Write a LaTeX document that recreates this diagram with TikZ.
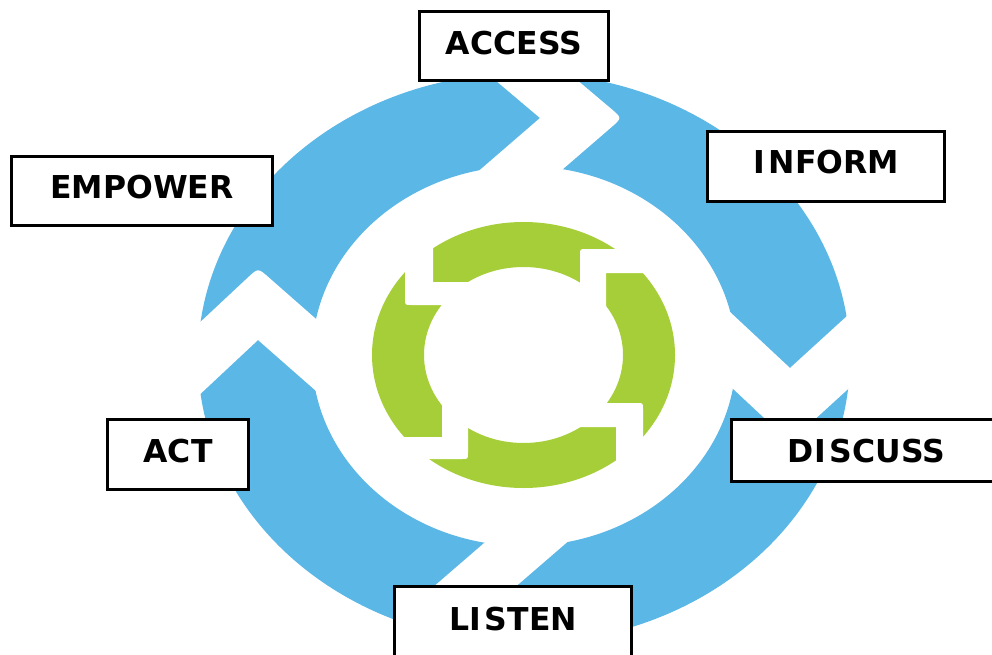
\documentclass[tikz,border=0pt]{standalone}
\usepackage{fontspec}
\newfontfamily\boxfont{DejaVu Sans}
\definecolor{ringblue}{HTML}{5BB7E6}
\definecolor{ringgreen}{HTML}{A6CE39}
\begin{document}
\begin{tikzpicture}[x=1pt,y=-1pt,
  gap/.style={fill=white},
  tag/.style={draw=black, line width=3pt, fill=white, inner sep=0pt,
    font=\boxfont\bfseries\fontsize{31.5}{31.5}\selectfont}]
\useasboundingbox (0,0) rectangle (992,655);

% outer blue cycle
\fill[ringblue, even odd rule]
  (524,358) ellipse [x radius=326pt, y radius=285pt]
  (524,356) ellipse [x radius=212pt, y radius=190pt];
% chevron cuts between the blue arrows (head sharp, notch rounded)
\fill[gap] (469,58) -- (540,118) -- (459,188) -- (541,188)
  -- (611.4,127.2) .. controls (622,118) .. (611.3,108.9) -- (551,58) -- cycle;
\fill[gap] (715,298) -- (790,368) -- (870,295) -- (870,369)
  -- (800.3,432.6) .. controls (790,442) .. (779.8,432.5) -- (715,372) -- cycle;
\fill[gap] (587,525) -- (506,595) -- (582,660) -- (500,660)
  -- (434.6,604.1) .. controls (424,595) .. (434.6,585.8) -- (505,525) -- cycle;
\fill[gap] (180,413) -- (258,340) -- (332,405) -- (332,333)
  -- (268.5,277.2) .. controls (258,268) .. (247.8,277.6) -- (180,341) -- cycle;

% inner green cycle
\fill[ringgreen, even odd rule]
  (523.5,355) ellipse [x radius=151.5pt, y radius=133pt]
  (523.5,355) ellipse [x radius=99.5pt, y radius=88pt];
% stepped cuts between the green arrows
\fill[gap] (405,230) -- (405,299) .. controls (405,305) .. (411,305)
  -- (480,305) -- (480,282) -- (433,282) -- (433,230) -- cycle;
\fill[gap] (670,249) -- (586,249) .. controls (580,249) .. (580,255)
  -- (580,315) -- (606,315) -- (606,273) -- (670,273) -- cycle;
\fill[gap] (560,403) -- (637,403) .. controls (643,403) .. (643,409)
  -- (643,480) -- (616,480) -- (616,427) -- (560,427) -- cycle;
\fill[gap] (468,400) -- (468,453) .. controls (468,459) .. (462,459)
  -- (380,459) -- (380,437) -- (442,437) -- (442,400) -- cycle;

% labels
\node[tag, minimum width=189pt, minimum height=69pt, text depth=7pt] (access) at (514,46) {ACCESS};
\node[tag, minimum width=261pt, minimum height=69pt, text depth=9pt] (empower) at (142,191) {EMPOWER};
\node[tag, minimum width=237pt, minimum height=70pt, text depth=10pt] (inform) at (826,166.5) {I\kern4pt NFORM};
\node[tag, minimum width=141pt, minimum height=70pt, text depth=8pt] (act) at (178,454.5) {ACT};
\node[tag, minimum width=270pt, minimum height=62pt, text depth=0pt] (discuss) at (866.5,450.5) {DI\kern4pt SCUSS};
\node[tag, minimum width=237pt, minimum height=82pt, text depth=18pt] (listen) at (513,627.5) {LI\kern4pt STEN};
\end{tikzpicture}
\end{document}
